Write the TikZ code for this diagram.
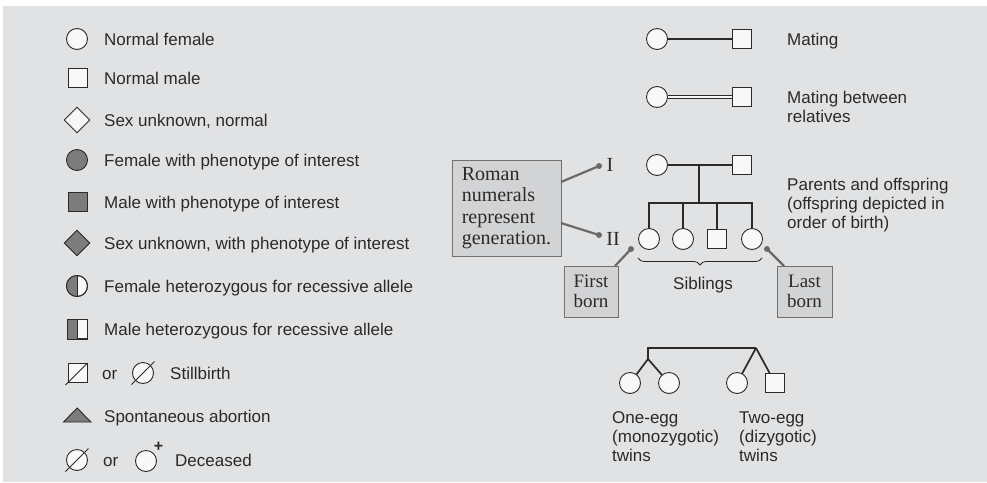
\documentclass[tikz,border=0pt]{standalone}
\usepackage{fontspec}
\setmainfont{Liberation Sans}
\newfontfamily\seriffont{Liberation Serif}
\usetikzlibrary{shapes.geometric,decorations.pathreplacing}
\definecolor{bg}{HTML}{E1E2E4}
\definecolor{wfill}{HTML}{F8F8F8}
\definecolor{pfill}{HTML}{7C7C7C}
\definecolor{boxfill}{HTML}{D2D3D5}
\definecolor{boxline}{HTML}{707070}
\definecolor{ink}{HTML}{2A2A2A}
\definecolor{callout}{HTML}{6A6A6A}
\begin{document}
\begin{tikzpicture}[x=1pt,y=-1pt,
  symline/.style={draw=ink,line width=0.9pt},
  fem/.style={circle,symline,fill=wfill,minimum size=21pt,inner sep=0pt},
  mal/.style={rectangle,symline,fill=wfill,minimum size=19pt,inner sep=0pt},
  unk/.style={diamond,symline,fill=wfill,minimum size=26pt,inner sep=0pt},
  aff/.style={fill=pfill},
  lbl/.style={anchor=base west,inner sep=0pt,text=ink,font=\fontsize{17}{19}\selectfont},
  ped/.style={draw=ink,line width=1.7pt},
  relline/.style={draw=ink,line width=1.2pt,double=wfill,double distance=2.4pt},
  callbox/.style={rectangle,draw=boxline,line width=1pt,fill=boxfill,inner sep=0pt,text=ink},
  calltext/.style={font=\seriffont\fontsize{20}{21.3}\selectfont},
  callline/.style={draw=callout,line width=2.2pt},
  dot/.style={circle,fill=callout,minimum size=6pt,inner sep=0pt},
  gen/.style={inner sep=0pt,text=ink,font=\seriffont\fontsize{20}{20}\selectfont}
]
\useasboundingbox (0,0) rectangle (987,482);
\fill[white] (0,0) rectangle (987,482);
\fill[bg] (3,6) rectangle (987,482);

% ---------- left legend ----------
\node[fem] (L1) at (77,39) {};
\node[lbl] (t1) at (104,45.5) {Normal female};
\node[mal] (L2) at (77.5,78) {};
\node[lbl] (t2) at (104,84.5) {Normal male};
\node[unk] (L3) at (77,120) {};
\node[lbl] (t3) at (104,126.5) {Sex unknown, normal};
\node[fem,aff] (L4) at (77,160) {};
\node[lbl] (t4) at (104,166.5) {Female with phenotype of interest};
\node[mal,aff] (L5) at (77.5,202) {};
\node[lbl] (t5) at (104,208.5) {Male with phenotype of interest};
\node[unk,aff] (L6) at (77,243) {};
\node[lbl] (t6) at (104,249.5) {Sex unknown, with phenotype of interest};

\node[fem] (L7) at (77,286) {};
\begin{scope}
  \clip (60,270) rectangle (77,302);
  \fill[pfill] (L7.center) circle[radius=10.5];
\end{scope}
\draw[symline] (L7.north) -- (L7.south);
\draw[symline] (L7.center) circle[radius=10.5];
\node[lbl] (t7) at (104,292.5) {Female heterozygous for recessive allele};

\node[mal] (L8) at (77.5,329) {};
\fill[pfill] (L8.north west) rectangle (L8.south);
\draw[symline] (L8.north) -- (L8.south);
\draw[symline] (L8.north west) rectangle (L8.south east);
\node[lbl] (t8) at (104,335.5) {Male heterozygous for recessive allele};

\node[mal] (L9) at (77.5,373) {};
\coordinate (s9) at (65.5,385);
\draw[symline] (s9) -- (L9.north east);
\node[lbl] (or1) at (102,379.5) {or};
\node[fem] (L10) at (143,373) {};
\coordinate (s10a) at (131.5,384.5);
\coordinate (s10b) at (154.5,361.5);
\draw[symline] (s10a) -- (s10b);
\node[lbl] (t9) at (170,379.5) {Stillbirth};

\draw[symline,fill=pfill] (63.5,422) -- (91,422) -- (77.2,408) -- cycle;
\node[lbl] (t10) at (104,422) {Spontaneous abortion};

\node[fem] (L12) at (77,460) {};
\coordinate (s12a) at (65.5,471.5);
\coordinate (s12b) at (88.5,448.5);
\draw[symline] (s12a) -- (s12b);
\node[lbl] (or2) at (103,466.5) {or};
\node[fem] (L13) at (146,461) {};
\node[inner sep=0pt,text=ink,font=\bfseries\fontsize{16}{16}\selectfont] (plus) at (158.5,447) {+};
\node[lbl] (t11) at (175,466.5) {Deceased};

% ---------- mating ----------
\node[fem] (M1) at (657,39) {};
\node[mal] (M2) at (741.5,39) {};
\draw[ped,line width=1.5pt] (M1) -- (M2);
\node[lbl] (tm) at (787,45.5) {Mating};

\node[fem] (R1) at (657,97) {};
\node[mal] (R2) at (741.5,97) {};
\draw[relline] (R1) -- (R2);
\node[lbl] (tr) at (787,103.5) {\vtop{\hbox{Mating between}\hbox{relatives}}};

% ---------- parents and offspring ----------
\node[fem] (P1) at (657,165) {};
\node[mal] (P2) at (742,165) {};
\draw[ped] (P1) -- (P2);
\coordinate (pm) at (699,165);
\coordinate (sb) at (699,203);
\draw[ped] (pm) -- (sb);
\node[fem] (C1) at (649,239) {};
\node[fem] (C2) at (683,239) {};
\node[mal] (C3) at (717,239) {};
\node[fem] (C4) at (752,239) {};
\draw[ped] (C1.north) |- (sb) -| (C4.north);
\draw[ped] (C2.north) -- (C2.north |- sb);
\draw[ped] (C3.north) -- (C3.north |- sb);
\node[lbl] (tp) at (787,190) {\vtop{\hbox{Parents and offspring}\hbox{(offspring depicted in}\hbox{order of birth)}}};

\coordinate (brA) at (638,258);
\coordinate (brB) at (762,258);
\draw[decorate,decoration={brace,mirror,amplitude=7pt},draw=ink,line width=0.8pt] (brA) -- (brB);
\node[anchor=base,inner sep=0pt,text=ink,font=\fontsize{17}{19}\selectfont] (sib) at (703,289) {Siblings};

% generation labels and callouts
\node[gen] (gI) at (610,165) {I};
\node[gen] (gII) at (613,239) {II};
\node[dot] (dI) at (599,166) {};
\node[dot] (dII) at (599,235) {};
\node[callbox,calltext,align=left,minimum width=109pt,minimum height=96pt] (roman) at (506.5,208) {Roman\\numerals\\represent\\generation.};
\coordinate (rI) at (561,182);
\coordinate (rII) at (561,223);
\draw[callline] (rI) -- (dI.center);
\draw[callline] (rII) -- (dII.center);

\node[callbox,calltext,align=center,minimum width=54pt,minimum height=51pt,font=\seriffont\fontsize{19}{20}\selectfont] (first) at (591,291.5) {First\\born};
\node[dot] (dF) at (631,249) {};
\coordinate (fA) at (615,266);
\draw[callline] (fA) -- (dF.center);

\node[callbox,calltext,align=center,minimum width=55pt,minimum height=51pt,font=\seriffont\fontsize{19}{20}\selectfont] (last) at (804.5,291.5) {Last\\born};
\node[dot] (dL) at (767,249) {};
\coordinate (lA) at (784,266);
\draw[callline] (dL.center) -- (lA);

% ---------- twins ----------
\coordinate (ta) at (648,348);
\coordinate (tb) at (756,348);
\coordinate (tmz) at (648,359);
\node[fem] (T1) at (630,383) {};
\node[fem] (T2) at (669,383) {};
\node[fem] (T3) at (737,383) {};
\node[mal] (T4) at (775,383) {};
\draw[ped] (tmz) -- (ta) -- (tb);
\draw[ped] (tmz) -- (T1);
\draw[ped] (tmz) -- (T2);
\draw[ped] (tb) -- (T3);
\draw[ped] (tb) -- (T4);
\node[lbl] (tw1) at (612,423) {\vtop{\hbox{One-egg}\hbox{(monozygotic)}\hbox{twins}}};
\node[lbl] (tw2) at (739,423) {\vtop{\hbox{Two-egg}\hbox{(dizygotic)}\hbox{twins}}};
\end{tikzpicture}
\end{document}
